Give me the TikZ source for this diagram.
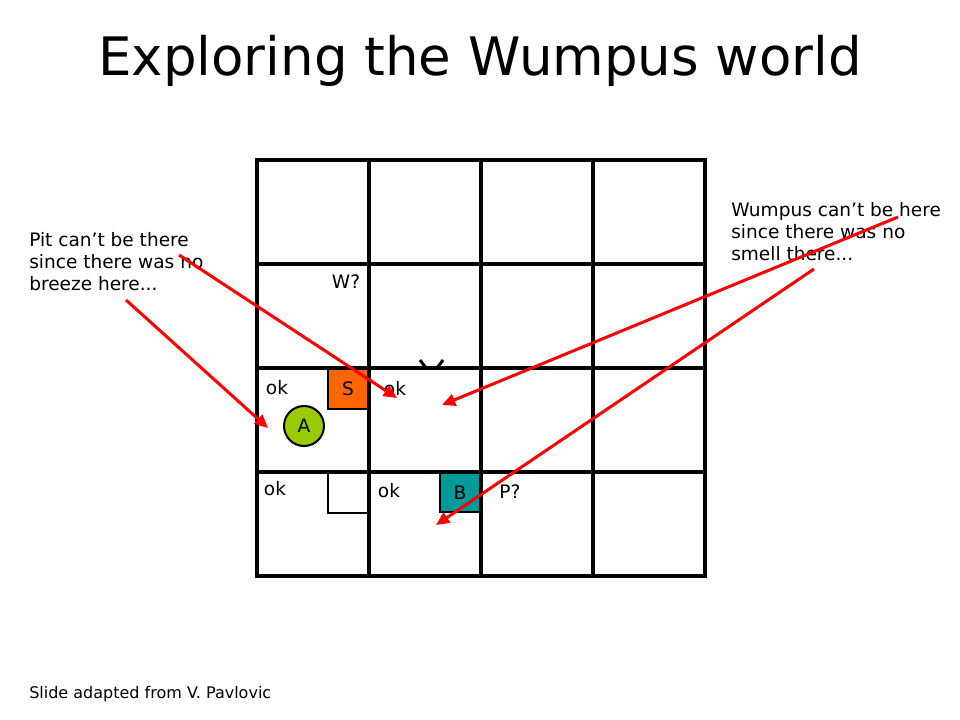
\documentclass[tikz,border=0pt]{standalone}
\usepackage{fontspec}
\setmainfont{DejaVu Sans}
\usetikzlibrary{arrows.meta}

\definecolor{stenchorange}{HTML}{FF6600}
\definecolor{agentgreen}{HTML}{99CC00}
\definecolor{breezeteal}{HTML}{009999}

\tikzset{
    every node/.style={font=\fontsize{13.9}{16.5}\selectfont},
    cellmark/.style={draw, line width=1.5pt, minimum width=30pt, minimum height=30pt, inner sep=0pt},
    hint/.style={red, line width=2.25pt, -{Triangle[length=10pt,width=9pt]}},
    note/.style={anchor=north west, align=left, inner sep=0pt}
}

\begin{document}
\begin{tikzpicture}[x=0.75pt, y=-0.75pt]
    \useasboundingbox (0,0) rectangle (960,720);

    % Title
    \node[anchor=base, font=\fontsize{39.75}{48}\selectfont] (title) at (480,76) {Exploring the Wumpus world};

    % Marked squares and the agent
    \node[cellmark, fill=stenchorange, minimum height=30.75pt] (stench) at (348,388.5) {S};
    \node[cellmark, fill=breezeteal, minimum height=29.25pt] (breeze) at (460,492.5) {B};
    \draw[line width=1.5pt] (328,472) rectangle (368,513);
    \node[draw, circle, line width=1.5pt, fill=agentgreen, minimum size=30pt, inner sep=0pt] (agent) at (304,426) {A};

    % Cut-off mark
    \draw[line width=2.25pt] (420,360) -- (426,368) (443,360) -- (437,368);

    % Draw grid for the cave
    \draw[line width=2.4pt] (257,160) rectangle (705,576);
    \foreach \x in {369, 481, 593} {
        \draw[line width=2.4pt] (\x,160) -- (\x,576);
    }
    \foreach \y in {264, 368, 472} {
        \draw[line width=2.4pt] (257,\y) -- (705,\y);
    }

    % Labels in cells
    \node[anchor=base] (wq) at (346,288) {W?};
    \node[anchor=base] (ok21) at (277,394) {ok};
    \node[anchor=base] (ok22) at (395,395) {ok};
    \node[anchor=base] (ok11) at (275,495) {ok};
    \node[anchor=base] (ok12) at (389,497) {ok};
    \node[anchor=base] (pq) at (510,498) {P?};

    % Notes
    \node[note] (pitnote) at (29,232) {Pit can’t be there\\since there was no\\breeze here...};
    \node[note] (wumpusnote) at (731,202) {Wumpus can’t be here\\since there was no\\smell there...};

    % Credit
    \node[anchor=base west, inner sep=0pt, font=\fontsize{12}{14}\selectfont] (credit) at (29,698) {Slide adapted from V. Pavlovic};

    % Arrows from the notes
    \coordinate (pitfromA) at (126,300);
    \coordinate (pittoA) at (268,428);
    \coordinate (pitfromB) at (179,255);
    \coordinate (pittoB) at (397,398);
    \coordinate (wumpusfromA) at (898,217);
    \coordinate (wumpustoA) at (442,405);
    \coordinate (wumpusfromB) at (814,269);
    \coordinate (wumpustoB) at (436,525);
    \draw[hint] (pitfromA) -- (pittoA);
    \draw[hint] (pitfromB) -- (pittoB);
    \draw[hint] (wumpusfromA) -- (wumpustoA);
    \draw[hint] (wumpusfromB) -- (wumpustoB);

\end{tikzpicture}
\end{document}
